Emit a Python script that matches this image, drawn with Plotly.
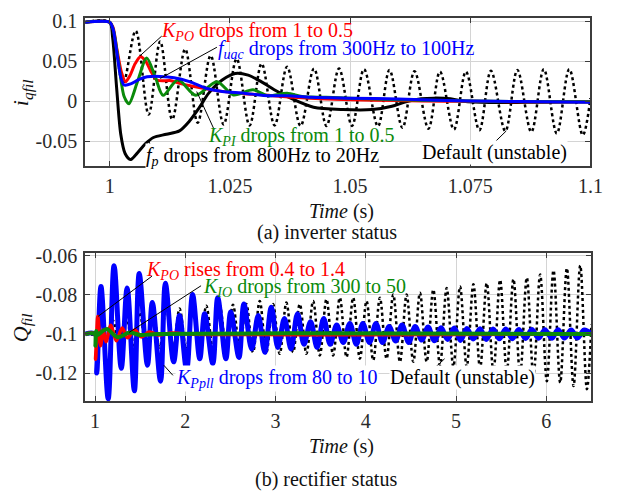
import plotly.graph_objects as go

# ---------------- data: (a) inverter status ----------------
top_t_default = [0.9949, 1.0, 1.0012, 1.0028, 1.0054, 1.0081, 1.0105, 1.0130, 1.0157, 1.0183, 1.0210,
                 1.0237, 1.0264, 1.0291, 1.0316, 1.0343, 1.0369, 1.0397, 1.0425, 1.0451, 1.0477, 1.0504,
                 1.0529, 1.0558, 1.0582, 1.0609, 1.0634, 1.0663, 1.0687, 1.0716, 1.0741, 1.0769, 1.0793,
                 1.0823, 1.0848, 1.0877, 1.0903, 1.0930, 1.0956, 1.0984, 1.1]
top_v_default = [0.0985, 0.0985, 0.07, 0.022, 0.0878, -0.0164, 0.0745, -0.0225, 0.065, -0.0266, 0.057,
                 -0.0287, 0.053, -0.030, 0.047, -0.030, 0.043, -0.0306, 0.0408, -0.0306, 0.0408, -0.0306,
                 0.040, -0.031, 0.039, -0.033, 0.0375, -0.034, 0.037, -0.035, 0.037, -0.036, 0.038,
                 -0.037, 0.039, -0.038, 0.040, -0.040, 0.040, -0.042, 0.004]

top_t_fp = [0.9949, 1.0, 1.0006, 1.0014, 1.0023, 1.0032, 1.0043, 1.0055, 1.0074, 1.0091, 1.0118, 1.0145,
            1.0166, 1.0186, 1.0206, 1.0234, 1.0261, 1.0288, 1.0315, 1.0349, 1.0383, 1.0424, 1.0485,
            1.0546, 1.0587, 1.0614, 1.0648, 1.0675, 1.0709, 1.0736, 1.079, 1.09, 1.1]
top_v_fp = [0.0985, 0.0985, 0.08, 0.02, -0.041, -0.065, -0.0725, -0.066, -0.053, -0.045, -0.041, -0.0368,
            -0.0245, -0.0082, 0.0102, 0.0265, 0.0347, 0.0326, 0.0245, 0.0122, 0.002, -0.0074, -0.0103,
            -0.0103, -0.0061, -0.0009, 0.0032, 0.004, 0.0032, 0.0, -0.0015, -0.001, -0.0005]

top_t_kpo = [0.9949, 1.0, 1.0007, 1.0015, 1.0025, 1.0033, 1.0042, 1.0053, 1.0064, 1.0075, 1.0087, 1.0098,
             1.0112, 1.0125, 1.0145, 1.017, 1.0213, 1.026, 1.0315, 1.0383, 1.045, 1.055, 1.065, 1.075,
             1.085, 1.1]
top_v_kpo = [0.0985, 0.0985, 0.092, 0.065, 0.035, 0.0245, 0.032, 0.047, 0.0555, 0.05, 0.036, 0.0265,
             0.0255, 0.026, 0.0224, 0.019, 0.0143, 0.0105, 0.0081, 0.005, 0.003, 0.0015, 0.0005, 0.0,
             -0.0005, -0.0005]

top_t_kpi = [0.9949, 1.0, 1.0008, 1.0018, 1.003, 1.004, 1.0058, 1.0077, 1.0095, 1.0111, 1.0142, 1.0179,
             1.0223, 1.0257, 1.0298, 1.0329, 1.0369, 1.04, 1.045, 1.05, 1.06, 1.07, 1.08, 1.1]
top_v_kpi = [0.0985, 0.0985, 0.088, 0.05, 0.006, -0.003, 0.025, 0.054, 0.03, 0.0075, 0.027, 0.0075,
             0.0245, 0.008, 0.0143, 0.007, 0.010, 0.006, 0.005, 0.004, 0.002, 0.001, 0.0, -0.0005]

top_t_fuac = [0.9949, 1.0, 1.0007, 1.0015, 1.0023, 1.003, 1.0045, 1.006, 1.0078, 1.0105, 1.0134, 1.0166,
              1.02, 1.0234, 1.028, 1.032, 1.037, 1.042, 1.05, 1.06, 1.07, 1.08, 1.09, 1.1]
top_v_fuac = [0.0985, 0.0985, 0.09, 0.06, 0.03, 0.0204, 0.022, 0.027, 0.0306, 0.031, 0.0295, 0.0245,
              0.0163, 0.0122, 0.0102, 0.0074, 0.0069, 0.005, 0.004, 0.003, 0.001, 0.0, -0.0005, -0.001]

top_xticks = [1.0, 1.025, 1.05, 1.075, 1.1]
top_xtext = ["1", "1.025", "1.05", "1.075", "1.1"]
top_yticks = [0.1, 0.05, 0.0, -0.05]
top_ytext = ["0.1", "0.05", "0", "-0.05"]

# ---------------- data: (b) rectifier status ----------------
bot_t_default = [0.89, 1.0,
                 1.048, 1.122, 1.196, 1.270, 1.344, 1.418, 1.492, 1.566, 1.640, 1.714, 1.788, 1.862,
                 1.936, 2.010, 2.084, 2.158, 2.232, 2.306, 2.380, 2.454, 2.528, 2.602, 2.676, 2.750,
                 2.824, 2.898, 2.972, 3.046, 3.120, 3.194, 3.268, 3.342, 3.416, 3.490, 3.564, 3.638,
                 3.712, 3.786, 3.860, 3.934, 4.008, 4.082, 4.156, 4.230, 4.304, 4.378, 4.452, 4.526,
                 4.600, 4.674, 4.748, 4.822, 4.896, 4.970, 5.044, 5.118, 5.192, 5.266, 5.340, 5.414,
                 5.488, 5.562, 5.636, 5.710, 5.784, 5.858, 5.932, 6.006, 6.080, 6.154, 6.228, 6.302,
                 6.376, 6.450, 6.5]
bot_v_default = [-0.1, -0.1,
                 -0.096, -0.103, -0.093, -0.105, -0.091, -0.106, -0.089, -0.107, -0.088, -0.107, -0.087,
                 -0.108, -0.087, -0.108, -0.086, -0.108, -0.0855, -0.108, -0.085, -0.108, -0.085, -0.1077,
                 -0.0847, -0.1094, -0.0831, -0.1094, -0.0847, -0.1102, -0.0839, -0.1094, -0.0847, -0.1102,
                 -0.0831, -0.1110, -0.0822, -0.1110, -0.0814, -0.1119, -0.0814, -0.1127, -0.0831, -0.1135,
                 -0.0814, -0.1127, -0.0798, -0.1143, -0.0798, -0.1143, -0.0789, -0.1143, -0.0773, -0.1160,
                 -0.0764, -0.1168, -0.0757, -0.1168, -0.0745, -0.1176, -0.0740, -0.1193, -0.0723, -0.1193,
                 -0.0719, -0.1209, -0.0712, -0.1217, -0.0695, -0.1242, -0.0674, -0.1250, -0.0663, -0.1267,
                 -0.0649, -0.1283, -0.095]

bot_t_kppll = [0.89, 1.0, 1.018, 1.065, 1.145, 1.21, 1.29, 1.355, 1.435, 1.489, 1.58, 1.634, 1.725, 1.779,
               1.87, 1.935, 2.014, 2.08, 2.16, 2.214, 2.304, 2.359, 2.449, 2.503, 2.594, 2.649, 2.735,
               2.808, 2.88, 2.953, 3.025, 3.098, 3.171, 3.243, 3.315, 3.388, 3.46, 3.533, 3.605, 3.677,
               3.75, 3.823, 3.895, 3.967, 4.04, 4.112, 4.185, 4.258, 4.33, 4.402, 4.475, 4.547, 4.62,
               4.69, 4.76, 4.835, 4.905, 4.98, 5.05, 5.12, 5.19, 5.265, 5.335, 5.41, 5.48, 5.55, 5.625,
               5.695, 5.77, 5.84, 5.915, 5.985, 6.06, 6.13, 6.2, 6.275, 6.345, 6.42, 6.5]
bot_v_kppll = [-0.1, -0.1, -0.120, -0.0757, -0.1332, -0.065, -0.1176, -0.0764, -0.1291, -0.069, -0.116,
               -0.0839, -0.1242, -0.074, -0.1143, -0.0905, -0.1184, -0.0798, -0.1127, -0.0896, -0.1152,
               -0.0814, -0.1127, -0.0888, -0.112, -0.0847, -0.1077, -0.0905, -0.1094, -0.0863, -0.1069,
               -0.0921, -0.1077, -0.0896, -0.1053, -0.0937, -0.1069, -0.0921, -0.1053, -0.0954, -0.1044,
               -0.0946, -0.1053, -0.0946, -0.1044, -0.0946, -0.1044, -0.0962, -0.1036, -0.0954, -0.1044,
               -0.0962, -0.1031, -0.0965, -0.1035, -0.0968, -0.1028, -0.097, -0.1033, -0.0972, -0.1026,
               -0.0973, -0.1028, -0.0975, -0.1025, -0.0975, -0.1024, -0.0977, -0.1023, -0.0977, -0.1022,
               -0.0978, -0.1022, -0.0979, -0.1021, -0.098, -0.102, -0.098, -0.1]

bot_t_kpo = [0.89, 0.995, 1.005, 1.03, 1.06, 1.09, 1.12, 1.175, 1.235, 1.30, 1.36, 1.44, 1.51, 1.60,
             1.70, 1.85, 2.0, 6.5]
bot_v_kpo = [-0.1, -0.1, -0.113, -0.091, -0.106, -0.098, -0.104, -0.0955, -0.1035, -0.097, -0.102,
             -0.098, -0.1015, -0.099, -0.1005, -0.0995, -0.1, -0.1]

bot_t_kio = [0.89, 0.998, 1.003, 1.012, 1.03, 1.07, 1.13, 1.25, 1.38, 1.5, 1.7, 6.5]
bot_v_kio = [-0.1, -0.1, -0.106, -0.0985, -0.1005, -0.099, -0.0975, -0.1017, -0.0993, -0.1005, -0.1, -0.1]

bot_xticks = [1, 2, 3, 4, 5, 6]
bot_xtext = ["1", "2", "3", "4", "5", "6"]
bot_yticks = [-0.06, -0.08, -0.1, -0.12]
bot_ytext = ["-0.06", "-0.08", "-0.1", "-0.12"]

# ---------------- styling ----------------
RED = "#ff0000"
BLUE = "#0000ff"
GREEN = "#0a8a0a"
BLACK = "#000000"
FONT = "Liberation Serif, Times New Roman, serif"
W, H = 624, 492

fig = go.Figure()

def add(x, y, color, width, xa, ya, dash="solid", smooth=0.8):
    fig.add_trace(go.Scatter(x=x, y=y, mode="lines", xaxis=xa, yaxis=ya,
                             line=dict(color=color, width=width, dash=dash, shape="spline",
                                       smoothing=smooth),
                             showlegend=False, hoverinfo="skip"))

# top panel
add(top_t_default, top_v_default, BLACK, 2.5, "x", "y", dash="dot", smooth=1.0)
add(top_t_fp, top_v_fp, BLACK, 3, "x", "y")
add(top_t_kpo, top_v_kpo, RED, 3, "x", "y")
add(top_t_kpi, top_v_kpi, GREEN, 3, "x", "y")
add(top_t_fuac, top_v_fuac, BLUE, 3, "x", "y")

# bottom panel
add(bot_t_default, bot_v_default, BLACK, 2.5, "x2", "y2", dash="dot", smooth=1.0)
add(bot_t_kppll, bot_v_kppll, BLUE, 5, "x2", "y2", smooth=1.0)
add(bot_t_kpo, bot_v_kpo, RED, 3.5, "x2", "y2", smooth=0.9)
add(bot_t_kio, bot_v_kio, GREEN, 4, "x2", "y2", smooth=0.9)

def xdom(l, r):
    return [l / W, r / W]

def ydom(top, bottom):
    return [1 - bottom / H, 1 - top / H]

axis_common = dict(showgrid=True, gridcolor="#d4d4d4", gridwidth=1, zeroline=False,
                   showline=True, linecolor="#3c3c3c", linewidth=2, mirror="allticks",
                   ticks="inside", ticklen=5, tickcolor="#3c3c3c", tickmode="array",
                   tickfont=dict(family=FONT, size=20, color="#2a2a2a"))

fig.update_layout(
    width=W, height=H, margin=dict(l=0, r=0, t=0, b=0),
    paper_bgcolor="white", plot_bgcolor="white",
    font=dict(family=FONT),
    xaxis=dict(domain=xdom(87, 603), range=[0.9949, 1.1], anchor="y",
               tickvals=top_xticks, ticktext=top_xtext, ticklabelstandoff=1, **axis_common),
    yaxis=dict(domain=ydom(10, 161), range=[-0.081, 0.104], anchor="x",
               tickvals=top_yticks, ticktext=top_ytext, ticklabelstandoff=2, **axis_common),
    xaxis2=dict(domain=xdom(87, 604), range=[0.89, 6.5], anchor="y2",
                tickvals=bot_xticks, ticktext=bot_xtext, ticklabelstandoff=1, **axis_common),
    yaxis2=dict(domain=ydom(249, 400), range=[-0.1346, -0.0585], anchor="x2",
                tickvals=bot_yticks, ticktext=bot_ytext, ticklabelstandoff=2, **axis_common),
)

ann = []
def label(text, x, y, color, xr, yr, size=20, bg=True):
    ann.append(dict(text=text, x=x, y=y, xref=xr, yref=yr, xanchor="left", yanchor="middle",
                    showarrow=False, font=dict(family=FONT, size=size, color=color),
                    bgcolor="white" if bg else "rgba(0,0,0,0)", borderpad=0))

def paper_text(text, x, y, size=20, color="#111111"):
    ann.append(dict(text=text, x=x / W, y=1 - y / H, xref="paper", yref="paper",
                    xanchor="center", yanchor="middle", showarrow=False,
                    font=dict(family=FONT, size=size, color=color)))

shapes = []
def leader(x0, y0, x1, y1, xr, yr):
    shapes.append(dict(type="line", x0=x0, y0=y0, x1=x1, y1=y1, xref=xr, yref=yr,
                       line=dict(color="black", width=1)))

# top panel leaders & labels
leader(1.0063, 0.0567, 1.0108, 0.0812, "x", "y")
leader(1.0105, 0.0285, 1.0223, 0.0674, "x", "y")
leader(1.0181, 0.0122, 1.0217, -0.0348, "x", "y")
leader(1.0081, -0.049, 1.0091, -0.0640, "x", "y")
leader(1.0797, -0.0532, 1.0825, -0.0368, "x", "y")
label("<i>K</i><sub><i>PO</i></sub> drops from 1 to 0.5", 1.0104, 0.087, RED, "x", "y", bg=False)
label("<i>f</i><sub><i>uac</i></sub> drops from 300Hz to 100Hz", 1.0224, 0.0645, BLUE, "x", "y", bg=False)
label("<i>f</i><sub><i>p</i></sub> drops from 800Hz to 20Hz", 1.0073, -0.0688, BLACK, "x", "y")
label("<i>K</i><sub><i>PI</i></sub> drops from 1 to 0.5", 1.0203, -0.0443, GREEN, "x", "y", bg=False)
label("Default (unstable)", 1.0648, -0.0634, BLACK, "x", "y")

# bottom panel leaders & labels
leader(1.0326, -0.091, 1.630, -0.0704, "x2", "y2")
leader(1.377, -0.0992, 2.174, -0.0753, "x2", "y2")
leader(1.761, -0.116, 1.862, -0.1212, "x2", "y2")
leader(4.873, -0.1127, 4.674, -0.1212, "x2", "y2")
label("<i>K</i><sub><i>PO</i></sub> rises from 0.4 to 1.4", 1.554, -0.0677, RED, "x2", "y2", bg=False)
label("<i>K</i><sub><i>IO</i></sub> drops from 300 to 50", 2.19, -0.0763, GREEN, "x2", "y2", bg=False)
label("<i>K</i><sub><i>Ppll</i></sub> drops from 80 to 10", 1.884, -0.123, BLUE, "x2", "y2")
label("Default (unstable)", 4.26, -0.1222, BLACK, "x2", "y2")

# axis titles & captions
paper_text("<i>Time</i> (s)", 349, 207)
paper_text("(a) inverter status", 334, 228)
paper_text("<i>Time</i> (s)", 349, 446)
paper_text("(b) rectifier status", 333, 479)
ann.append(dict(text="<i>i</i><sub><i>qfil</i></sub>", x=22 / W, y=1 - 86 / H, xref="paper",
                yref="paper", textangle=-90, showarrow=False, xanchor="center", yanchor="middle",
                font=dict(family=FONT, size=22, color="#111111")))
ann.append(dict(text="<i>Q</i><sub><i>fil</i></sub>", x=22 / W, y=1 - 325 / H, xref="paper",
                yref="paper", textangle=-90, showarrow=False, xanchor="center", yanchor="middle",
                font=dict(family=FONT, size=22, color="#111111")))

fig.update_layout(annotations=ann, shapes=shapes)
fig.write_html("out.html")
